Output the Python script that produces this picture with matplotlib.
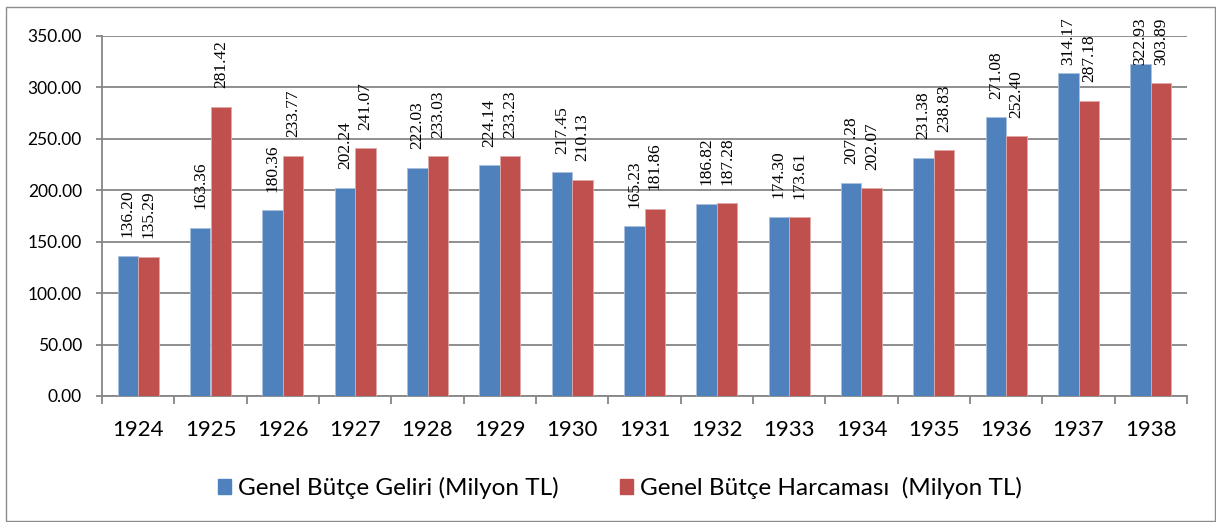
import matplotlib
matplotlib.use("Agg")
import matplotlib.pyplot as plt
import numpy as np
from matplotlib.patches import Rectangle, Patch

years = ["1924", "1925", "1926", "1927", "1928", "1929", "1930", "1931",
         "1932", "1933", "1934", "1935", "1936", "1937", "1938"]
gelir = [136.20, 163.36, 180.36, 202.24, 222.03, 224.14, 217.45, 165.23,
         186.82, 174.30, 207.28, 231.38, 271.08, 314.17, 322.93]
harcama = [135.29, 281.42, 233.77, 241.07, 233.03, 233.23, 210.13, 181.86,
           187.28, 173.61, 202.07, 238.83, 252.40, 287.18, 303.89]
series_names = ["Genel Bütçe Geliri (Milyon TL)", "Genel Bütçe Harcaması  (Milyon TL)"]
yticks = [0, 50, 100, 150, 200, 250, 300, 350]

BLUE = "#4F81BD"
RED = "#C0504D"
GRID = "#868686"

fig = plt.figure(figsize=(12.16, 5.22), dpi=100)
fig.patch.set_facecolor("white")
# outer chart border
fig.add_artist(Rectangle((6/1216, 1 - 521/522), 1209/1216, 514/522,
                         transform=fig.transFigure, fill=False,
                         edgecolor="#8c8c8c", linewidth=1.0))

ax = fig.add_axes([102/1216, 1 - 396/522, (1187 - 102)/1216, 360/522])
x = np.arange(len(years))
w = 0.285
ax.bar(x - w/2, gelir, w, color=BLUE, edgecolor="#a9c0de", linewidth=0.6, zorder=3)
ax.bar(x + w/2, harcama, w, color=RED, edgecolor="#e0a9a8", linewidth=0.6, zorder=3)

ax.set_xlim(-0.5, len(years) - 0.5)
ax.set_ylim(0, 350)
ax.set_yticks(yticks)
ax.set_yticklabels([f"{v:.2f}" for v in yticks], fontfamily="Lato", fontsize=12.5)
ax.yaxis.grid(True, color=GRID, linewidth=1.3, zorder=0)
ax.set_axisbelow(True)

ax.set_xticks(x)
ax.set_xticklabels(years, fontfamily="Lato", fontsize=16)
ax.set_xticks(np.arange(-0.5, len(years)), minor=True)
ax.tick_params(axis="x", which="major", length=0, pad=17)
ax.tick_params(axis="x", which="minor", length=6, color=GRID, width=1.3)
ax.tick_params(axis="y", length=4.5, color=GRID, width=1.3, pad=10)

for s in ["top", "right"]:
    ax.spines[s].set_visible(False)
for s in ["left", "bottom"]:
    ax.spines[s].set_color(GRID)
    ax.spines[s].set_linewidth(1.3)

# value labels (rotated, above bars; kept inside chart area)
off = 18.0
cap = 322.0
for xi, v in zip(x - w/2, gelir):
    ax.text(xi, min(v + off, cap), f"{v:.2f}", rotation=90, ha="center", va="bottom",
            fontfamily="Liberation Serif", fontsize=12.5, clip_on=False, zorder=4)
for xi, v in zip(x + w/2, harcama):
    ax.text(xi, min(v + off, cap), f"{v:.2f}", rotation=90, ha="center", va="bottom",
            fontfamily="Liberation Serif", fontsize=12.5, clip_on=False, zorder=4)

handles = [Patch(facecolor=BLUE, edgecolor=BLUE), Patch(facecolor=RED, edgecolor=RED)]
fig.legend(handles, series_names, loc="center", bbox_to_anchor=(620/1216, 1 - 488/522),
           ncol=2, frameon=False, prop={"family": "Lato", "size": 17.5},
           handlelength=0.55, handleheight=0.55, handletextpad=0.3, columnspacing=2.5)

fig.savefig("out.png", dpi=100, facecolor="white")
